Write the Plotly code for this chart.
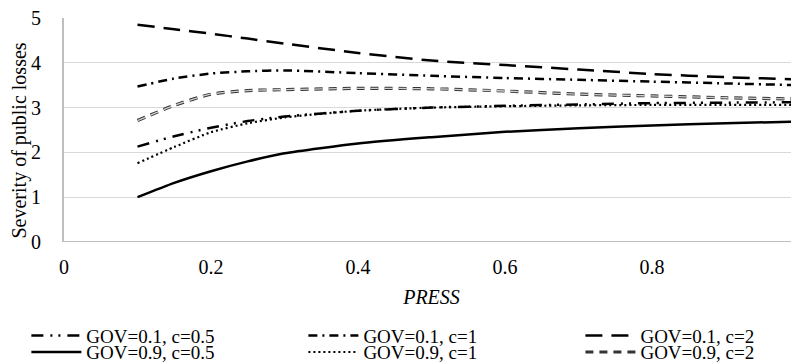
import plotly.graph_objects as go

press = [0.1, 0.15, 0.2, 0.25, 0.3, 0.4, 0.5, 0.6, 0.7, 0.8, 0.9, 1.0]

gov01_c05 = [2.13, 2.36, 2.55, 2.70, 2.80, 2.93, 3.00, 3.04, 3.07, 3.10, 3.11, 3.12]
gov01_c1 = [3.47, 3.65, 3.76, 3.81, 3.83, 3.77, 3.71, 3.66, 3.62, 3.58, 3.54, 3.50]
gov01_c2 = [4.85, 4.75, 4.65, 4.54, 4.43, 4.22, 4.05, 3.95, 3.85, 3.75, 3.68, 3.63]
gov09_c05 = [1.00, 1.32, 1.58, 1.80, 1.98, 2.20, 2.34, 2.46, 2.54, 2.60, 2.65, 2.69]
gov09_c1 = [1.76, 2.12, 2.45, 2.65, 2.78, 2.93, 3.00, 3.03, 3.05, 3.06, 3.06, 3.06]
gov09_c2 = [2.71, 3.05, 3.30, 3.38, 3.40, 3.43, 3.42, 3.37, 3.30, 3.26, 3.22, 3.19]

names = ["GOV=0.1, c=0.5", "GOV=0.1, c=1", "GOV=0.1, c=2",
         "GOV=0.9, c=0.5", "GOV=0.9, c=1", "GOV=0.9, c=2"]

x_ticks = [0, 0.2, 0.4, 0.6, 0.8]
x_labels = ["0", "0.2", "0.4", "0.6", "0.8"]
y_ticks = [0, 1, 2, 3, 4, 5]

FONT = "Liberation Serif"
FS = 20
LFS = 19

fig = go.Figure()

styles = [
    (gov01_c05, dict(color="black", width=2.5, dash="12px,7px,2px,6px,2px,7px")),
    (gov01_c1, dict(color="black", width=2.5, dash="9px,5px,2px,5px")),
    (gov01_c2, dict(color="black", width=2.5, dash="17px,9px")),
    (gov09_c05, dict(color="black", width=2.5)),
    (gov09_c1, dict(color="black", width=2.2, dash="2px,3px")),
    (gov09_c2, dict(color="#333333", width=3.2, dash="8px,6px")),
]
legend_ids = ["legend", "legend2", "legend3", "legend4", "legend5", "legend6"]

for (ys, ln), nm, lg in zip(styles, names, legend_ids):
    fig.add_trace(go.Scatter(x=press, y=ys, mode="lines", name=nm, legend=lg,
                             line=dict(shape="spline", smoothing=0.6, **ln)))

# inner light stroke for the outlined double dash series
fig.add_trace(go.Scatter(x=press, y=gov09_c2, mode="lines", showlegend=False,
                         hoverinfo="skip",
                         line=dict(shape="spline", smoothing=0.6, color="#d0d0d0",
                                   width=1.3, dash="8px,6px")))

leg_common = dict(orientation="v", xanchor="left", yanchor="top",
                  font=dict(family=FONT, size=LFS), tracegroupgap=0,
                  itemwidth=50, bgcolor="rgba(0,0,0,0)")
col_x = [-0.0512, 0.3257, 0.7026]
row_y = [-0.333, -0.407]

legend_layout = {}
for i, lg in enumerate(legend_ids):
    legend_layout[lg] = dict(x=col_x[i % 3], y=row_y[i // 3], **leg_common)

fig.update_layout(
    width=799, height=364,
    margin=dict(l=56, r=8, t=10, b=130, autoexpand=False),
    paper_bgcolor="white", plot_bgcolor="white",
    font=dict(family=FONT, size=FS, color="black"),
    showlegend=True,
    xaxis=dict(range=[0, 1], tickvals=x_ticks, ticktext=x_labels,
               showgrid=False, zeroline=False, showline=False,
               ticks="", tickfont=dict(family=FONT, size=FS), ticklabelstandoff=11,
               title=dict(text="<i>PRESS</i>", font=dict(family=FONT, size=FS), standoff=12)),
    yaxis=dict(range=[0, 5], tickvals=y_ticks, showgrid=True, gridcolor="#d9d9d9",
               gridwidth=1, zeroline=False, showline=True, linecolor="#bfbfbf",
               linewidth=2, ticks="", tickfont=dict(family=FONT, size=FS),
               ticklabelstandoff=17, ticklabeloverflow="allow"),
    annotations=[dict(text="Severity of public losses", textangle=-90,
                      xref="paper", yref="paper", x=-0.0605, y=0.451,
                      xanchor="center", yanchor="middle", showarrow=False,
                      font=dict(family=FONT, size=FS))],
    **legend_layout,
)

fig.add_shape(type="line", xref="paper", yref="y", x0=0, x1=1, y0=0, y1=0,
              line=dict(color="#bfbfbf", width=2))

fig.write_html("out.html")
